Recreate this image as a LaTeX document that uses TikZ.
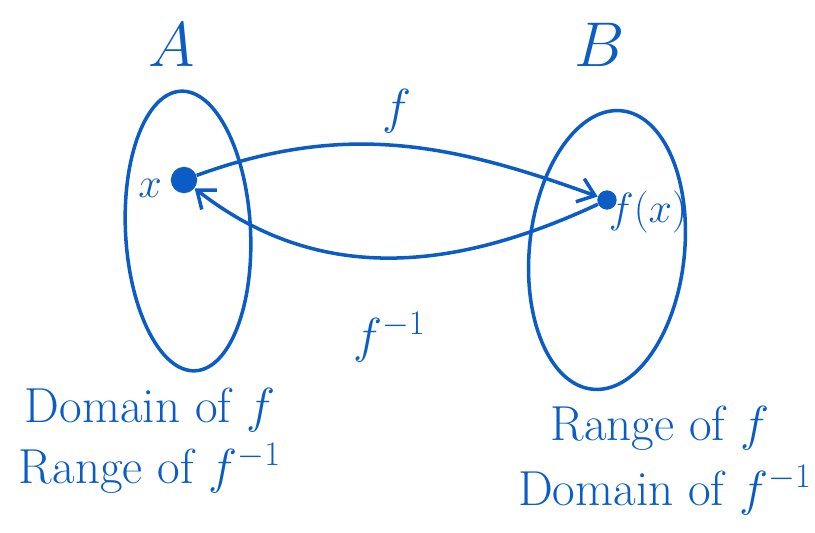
\RequirePackage{fix-cm}
\documentclass[tikz,border=0pt]{standalone}
\usepackage{tikz}
\usetikzlibrary{arrows.meta,shapes.geometric}
\definecolor{ink}{HTML}{0B5CC4}
\tikzset{
  setbox/.style={ellipse, draw=ink, line width=2pt, inner sep=0pt},
  pt/.style={circle, fill=ink, inner sep=0pt},
  lbl/.style={text=ink, font=\fontsize{28}{32}\selectfont, inner sep=0pt},
  setname/.style={text=ink, font=\fontsize{36}{40}\selectfont, inner sep=0pt},
  maps/.style={-{Straight Barb[length=9pt,width=14pt]}, draw=ink, line width=2pt}
}

\begin{document}
\begin{tikzpicture}[x=0.02cm, y=-0.02cm]
\useasboundingbox (0,0) rectangle (815,533);

% --- the two sets
\node[setbox, minimum width=2.5cm, minimum height=5.6cm, rotate=3] (setA) at (188,231) {};
\node[setbox, minimum width=3.1cm, minimum height=5.6cm, rotate=-6] (setB) at (607,250) {};
\node[setname] (nameA) at (172,45) {$A$};
\node[setname] (nameB) at (600,45) {$B$};

% --- points
\node[pt, minimum size=15pt] (x) at (184,180) {};
\node[pt, minimum size=11pt] (fx) at (607,200) {};
\node[lbl, font=\fontsize{24}{28}\selectfont] (xlbl) at (150,188) {$x$};
\node[lbl, font=\fontsize{24}{28}\selectfont] (fxlbl) at (648,212) {$f(x)$};

% --- the maps
\draw[maps] (x) to[out=20,in=160] node[lbl, above=6pt] (flbl) {$f$} (fx);
\draw[maps] (fx) to[out=205,in=-38] node[lbl, below=30pt] (finv) {$f^{-1}$} (x);

% --- captions
\node[lbl] (domA) at (150,410) {Domain of $f$};
\node[lbl] (rngA) at (150,468) {Range of $f^{-1}$};
\node[lbl] (rngB) at (660,428) {Range of $f$};
\node[lbl] (domB) at (665,490) {Domain of $f^{-1}$};
\end{tikzpicture}
\end{document}
